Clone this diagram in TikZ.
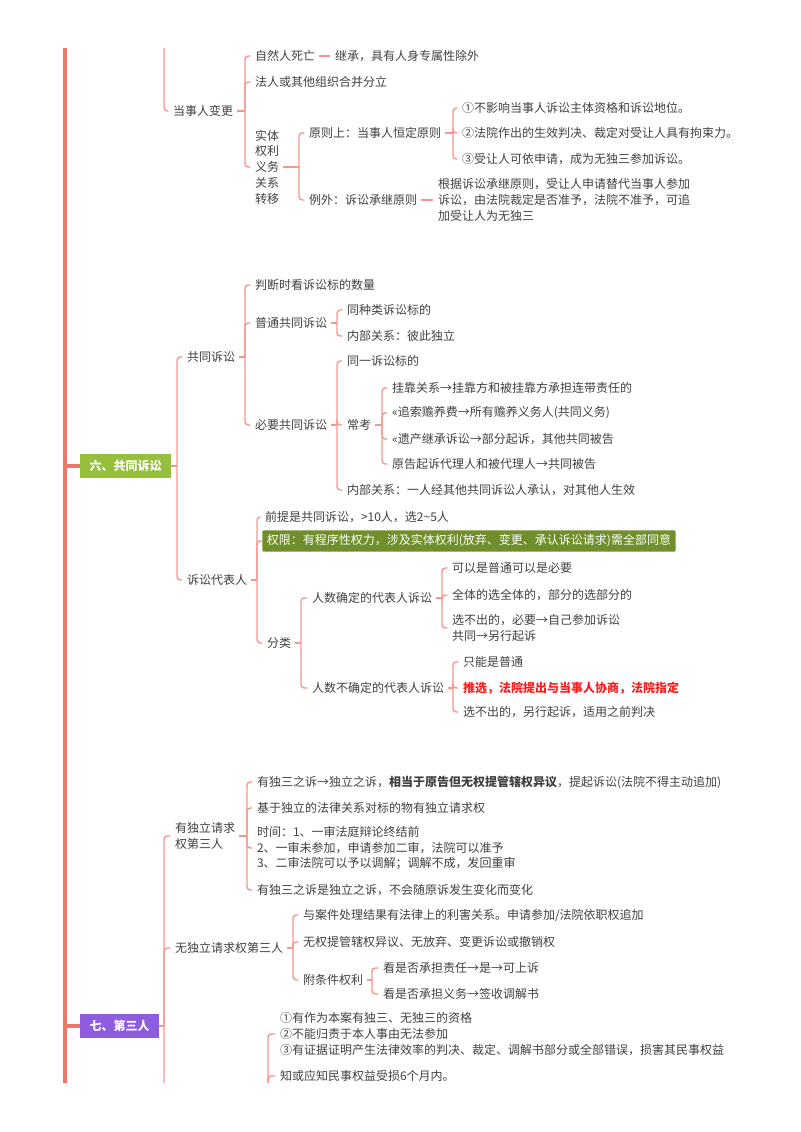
\documentclass[tikz,border=0pt]{standalone}
\usepackage{fontspec}
\setmainfont{Noto Sans CJK SC}
\usepackage{tikz}
\definecolor{mainc}{RGB}{240,118,108}
\definecolor{connc}{RGB}{246,150,140}
\definecolor{txtc}{RGB}{64,64,64}
\definecolor{greenc}{RGB}{150,192,60}
\definecolor{olivec}{RGB}{112,142,42}
\definecolor{purplec}{RGB}{142,92,222}
\definecolor{redc}{RGB}{250,30,30}
\tikzset{
  mainline/.style={draw=mainc, line width=2.3pt},
  conn/.style={draw=connc, line width=1.1pt, rounded corners=2.5pt},
  leaf/.style={anchor=west, inner sep=0pt, outer sep=0pt, text=txtc,
               font=\fontsize{9}{11.8}\selectfont},
  topbox/.style={anchor=west, inner sep=0pt, minimum height=18pt,
                 text=white, font=\fontsize{9}{11}\selectfont\bfseries}
}
% bracket pieces: stub from a parent to its vertical, twig from the vertical to a child
\newcommand\stub[2]{\draw[conn] ([xshift=3pt]#1.east) -- (#2,0 |- #1.east);}
\newcommand\twig[3]{\draw[conn] (#2,0 |- #1.east) |- ([xshift=-3.5pt]#3.west);}

\begin{document}
\begin{tikzpicture}[x=0.75pt, y=-0.75pt]
\useasboundingbox (0,0) rectangle (800,1132);

% Main line
\coordinate (top) at (65,48);
\coordinate (bot) at (65,1083);
\draw[mainline] (top) -- (bot);

% Tail of the previous part
\coordinate (u5) at (164,48);
\node[leaf] (dsr) at (173,111) {当事人变更};
\node[leaf] (zr) at (255,56) {自然人死亡};
\node[leaf] (jc) at (335,56) {继承，具有人身专属性除外};
\node[leaf] (fr) at (255,82) {法人或其他组织合并分立};
\node[leaf, align=left] (st) at (255,167) {实体\\权利\\义务\\关系\\转移};
\node[leaf] (yz) at (309,133) {原则上：当事人恒定原则};
\node[leaf] (yz1) at (462,108) {①不影响当事人诉讼主体资格和诉讼地位。};
\node[leaf] (yz2) at (462,133) {②法院作出的生效判决、裁定对受让人具有拘束力。};
\node[leaf] (yz3) at (462,159) {③受让人可依申请，成为无独三参加诉讼。};
\node[leaf] (lw) at (309,200) {例外：诉讼承继原则};
\node[leaf, align=left] (lw1) at (438,200) {根据诉讼承继原则，受让人申请替代当事人参加\\诉讼，由法院裁定是否准予，法院不准予，可追\\加受让人为无独三};

\draw[conn] (u5) |- ([xshift=-3.5pt]dsr.west);
\stub{dsr}{245}
\foreach \c in {zr,fr,st} {\twig{dsr}{245}{\c}}
\draw[conn] ([xshift=3pt]zr.east) -- ([xshift=-3.5pt]jc.west);
\stub{st}{299}
\foreach \c in {yz,lw} {\twig{st}{299}{\c}}
\stub{yz}{453}
\foreach \c in {yz1,yz2,yz3} {\twig{yz}{453}{\c}}
\draw[conn] ([xshift=3pt]lw.east) -- ([xshift=-3.5pt]lw1.west);

% Part six
\node[topbox, fill=greenc, minimum width=68pt] (b6) at (80,466) {六、共同诉讼};
\draw[mainline] (bot |- b6.west) -- (b6.west);
\draw[conn] (b6.east) -- (177,0 |- b6.east);
\node[leaf] (gt) at (187,357) {共同诉讼};
\node[leaf] (db) at (187,580) {诉讼代表人};
\foreach \c in {gt,db} {\twig{b6}{177}{\c}}

\node[leaf] (pd) at (255,285) {判断时看诉讼标的数量};
\node[leaf] (pt) at (255,323) {普通共同诉讼};
\node[leaf] (by) at (255,425) {必要共同诉讼};
\stub{gt}{245}
\foreach \c in {pd,pt,by} {\twig{gt}{245}{\c}}

\node[leaf] (pt1) at (347,310) {同种类诉讼标的};
\node[leaf] (pt2) at (347,336) {内部关系：彼此独立};
\stub{pt}{337}
\foreach \c in {pt1,pt2} {\twig{pt}{337}{\c}}

\node[leaf] (by1) at (347,361) {同一诉讼标的};
\node[leaf] (ck) at (347,425) {常考};
\node[leaf] (by2) at (347,490) {内部关系：一人经其他共同诉讼人承认，对其他人生效};
\stub{by}{337}
\foreach \c in {by1,ck,by2} {\twig{by}{337}{\c}}

\node[leaf] (ck1) at (392,388) {挂靠关系→挂靠方和被挂靠方承担连带责任的};
\node[leaf] (ck2) at (392,413) {«追索赡养费→所有赡养义务人(共同义务)};
\node[leaf] (ck3) at (392,439) {«遗产继承诉讼→部分起诉，其他共同被告};
\node[leaf] (ck4) at (392,464) {原告起诉代理人和被代理人→共同被告};
\stub{ck}{382}
\foreach \c in {ck1,ck2,ck3,ck4} {\twig{ck}{382}{\c}}

\node[leaf] (qt) at (265,517) {前提是共同诉讼，>10人，选2\char`~5人};
\node[anchor=west, fill=olivec, text=white, inner xsep=3.5pt, minimum height=15.5pt,
      rounded corners=1pt, font=\fontsize{9}{11}\selectfont] (qx) at (262,541)
      {权限：有程序性权力，涉及实体权利(放弃、变更、承认诉讼请求)需全部同意};
\node[leaf] (fl) at (267,643) {分类};
\stub{db}{257}
\foreach \c in {qt,fl} {\twig{db}{257}{\c}}
\draw[conn] (257,0 |- db.east) |- (qx.west);

\node[leaf] (rq) at (312,598) {人数确定的代表人诉讼};
\node[leaf] (rb) at (312,688) {人数不确定的代表人诉讼};
\stub{fl}{301}
\foreach \c in {rq,rb} {\twig{fl}{301}{\c}}

\node[leaf] (rq1) at (452,568) {可以是普通可以是必要};
\node[leaf] (rq2) at (452,595) {全体的选全体的，部分的选部分的};
\node[leaf, align=left] (rq3) at (452,628) {选不出的，必要→自己参加诉讼\\共同→另行起诉};
\stub{rq}{442}
\foreach \c in {rq1,rq2,rq3} {\twig{rq}{442}{\c}}

\node[leaf] (rb1) at (463,662) {只能是普通};
\node[leaf, text=redc, font=\fontsize{9}{11.8}\selectfont\bfseries] (rb2) at (463,688) {推选，法院提出与当事人协商，法院指定};
\node[leaf] (rb3) at (463,712) {选不出的，另行起诉，适用之前判决};
\stub{rb}{453}
\foreach \c in {rb1,rb2,rb3} {\twig{rb}{453}{\c}}

% Part seven
\node[topbox, fill=purplec, minimum width=59pt] (b7) at (80,1026) {七、第三人};
\draw[mainline] (bot |- b7.west) -- (b7.west);
\draw[conn] (b7.east) -- (164,0 |- b7.east);
\coordinate (d7) at (164,1083);
\node[leaf, align=left] (ydq) at (175,836) {有独立请求\\权第三人};
\node[leaf] (wdq) at (175,948) {无独立请求权第三人};
\draw[conn] (d7) |- ([xshift=-3.5pt]ydq.west);
\twig{b7}{164}{wdq}

\node[leaf] (y1) at (257,782) {有独三之诉→独立之诉，\textbf{相当于原告但无权提管辖权异议}，提起诉讼(法院不得主动追加)};
\node[leaf] (y2) at (257,808) {基于独立的法律关系对标的物有独立请求权};
\node[leaf, align=left] (y3) at (257,848) {时间：1、一审法庭辩论终结前\\2、一审未参加，申请参加二审，法院可以准予\\3、二审法院可以予以调解；调解不成，发回重审};
\node[leaf] (y4) at (257,890) {有独三之诉是独立之诉，不会随原诉发生变化而变化};
\stub{ydq}{247}
\foreach \c in {y1,y2,y3,y4} {\twig{ydq}{247}{\c}}

\node[leaf] (w1) at (303,915) {与案件处理结果有法律上的利害关系。申请参加/法院依职权追加};
\node[leaf] (w2) at (303,942) {无权提管辖权异议、无放弃、变更诉讼或撤销权};
\node[leaf] (w3) at (303,980) {附条件权利};
\stub{wdq}{293}
\foreach \c in {w1,w2,w3} {\twig{wdq}{293}{\c}}

\node[leaf] (w31) at (383,968) {看是否承担责任→是→可上诉};
\node[leaf] (w32) at (383,994) {看是否承担义务→签收调解书};
\stub{w3}{372}
\foreach \c in {w31,w32} {\twig{w3}{372}{\c}}

\coordinate (d7b) at (268,1083);
\node[leaf, align=left] (z1) at (280,1034) {①有作为本案有独三、无独三的资格\\②不能归责于本人事由无法参加\\③有证据证明产生法律效率的判决、裁定、调解书部分或全部错误，损害其民事权益};
\node[leaf] (z2) at (280,1076) {知或应知民事权益受损6个月内。};
\draw[conn] (d7b) |- ([xshift=-3.5pt]z1.west);
\draw[conn] (d7b) |- ([xshift=-3.5pt]z2.west);
\end{tikzpicture}
\end{document}
